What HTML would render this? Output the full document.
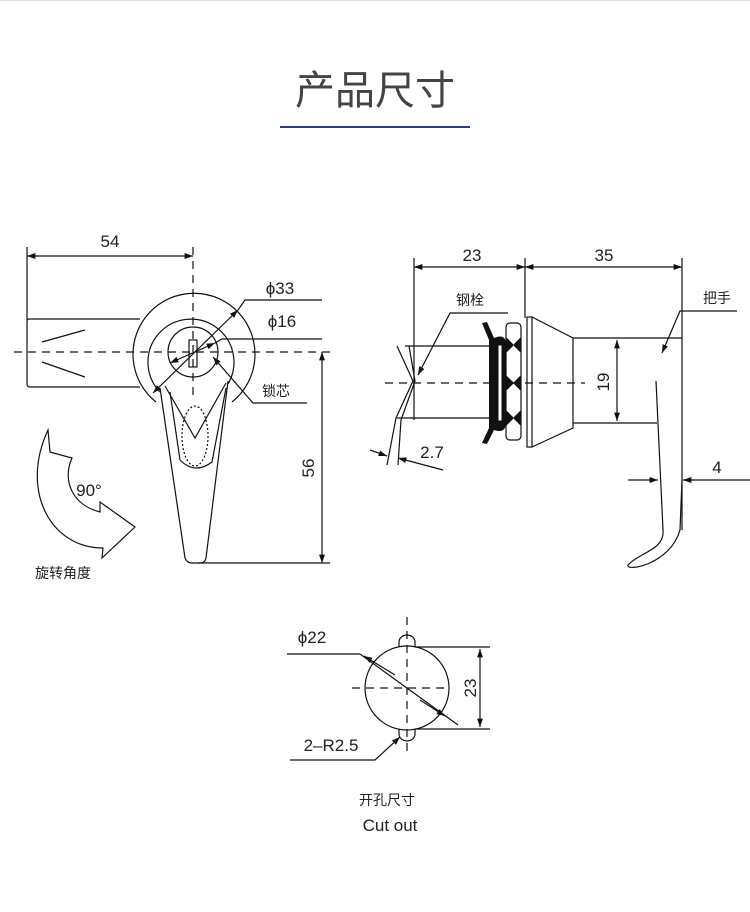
<!DOCTYPE html>
<html><head><meta charset="utf-8"><style>
html,body{margin:0;padding:0;background:#fff;}
svg{display:block;}
text{font-family:"Liberation Sans","Noto Sans CJK SC",sans-serif;fill:#222;}
</style></head><body>
<svg width="750" height="912" viewBox="0 0 750 912" xmlns="http://www.w3.org/2000/svg">
<defs>
<marker id="a" viewBox="0 0 10 10" refX="10" refY="5" markerWidth="7" markerHeight="7" orient="auto-start-reverse"><path d="M0,1.5 L10,5 L0,8.5 Z" fill="#111"/></marker>
</defs>
<line x1="0" y1="0.5" x2="750" y2="0.5" stroke="#ddd"/>
<text x="375" y="104" font-size="40" text-anchor="middle" style="fill:#444">产品尺寸</text>
<rect x="280" y="126" width="190" height="2" fill="#1e3f8f"/>

<g stroke="#111" stroke-width="1.2" fill="none">
<!-- LEFT -->
<line x1="27" y1="247" x2="27" y2="320"/>
<line x1="27" y1="256" x2="193" y2="256" marker-start="url(#a)" marker-end="url(#a)"/>
<line x1="14" y1="352" x2="330" y2="352" stroke-dasharray="8,6"/>
<line x1="193" y1="247" x2="193" y2="400" stroke-dasharray="8,6"/>
<path d="M140,319 L29,319 Q27,319 27,322 L27,384 Q27,387 30,387 L140,387"/>
<line x1="42" y1="342" x2="85" y2="330"/><line x1="42" y1="362" x2="85" y2="377"/>
<path d="M156,402 A61,61 0 1 1 232,402"/>
<path d="M160,392 A43,43 0 1 1 228,384"/>
<circle cx="193" cy="352" r="25"/>
<rect x="189" y="340" width="8" height="27"/>
<path d="M160,388 L185,558 Q187,563 192,563 L200,563 Q205,563 206,558 L228,381"/>
<path d="M165,386 L195,438 L226,383"/>
<path d="M170,392 L180,460 Q195,475 212,462 L226,388"/>
<ellipse cx="195" cy="436" rx="13" ry="30" stroke-dasharray="2,2"/>
<line x1="238" y1="310" x2="153" y2="393" marker-start="url(#a)" marker-end="url(#a)"/>
<polyline points="238,310 245,300 322,300"/>
<line x1="215" y1="343" x2="170" y2="363" marker-start="url(#a)" marker-end="url(#a)"/>
<polyline points="215,343 222,339 322,339"/>
<polyline points="307,403 253,403 213,357" marker-end="url(#a)"/>
<line x1="322" y1="352" x2="322" y2="563" marker-start="url(#a)" marker-end="url(#a)"/>
<line x1="198" y1="563" x2="330" y2="563"/>
<path d="M48,430 L50,452 L72,458 C62,480 72,505 100,512 L100,502 L135,527 L102,558 L103,548 C50,548 20,490 48,430 Z"/>

<!-- RIGHT -->
<line x1="414" y1="258" x2="414" y2="420"/>
<line x1="525" y1="258" x2="525" y2="318"/>
<line x1="682" y1="258" x2="682" y2="530"/>
<line x1="414" y1="267" x2="525" y2="267" marker-start="url(#a)" marker-end="url(#a)"/>
<line x1="525" y1="267" x2="682" y2="267" marker-start="url(#a)" marker-end="url(#a)"/>
<line x1="385" y1="383" x2="585" y2="383" stroke-dasharray="8,6"/>
<polyline points="397,346 413,381 396,418"/>
<polyline points="409,346 415,381 401,420"/>
<line x1="396" y1="418" x2="387" y2="465"/><line x1="401" y1="420" x2="398" y2="465"/>
<line x1="405" y1="346" x2="490" y2="346"/><line x1="397" y1="418" x2="490" y2="418"/>
<line x1="370" y1="450" x2="387" y2="456" marker-end="url(#a)"/>
<line x1="443" y1="470" x2="398" y2="458" marker-end="url(#a)"/>
<rect x="506" y="323" width="15" height="117" rx="4"/>
<rect x="527" y="317" width="5" height="130"/>
<path d="M532,317 L573,338 L573,428 L532,447"/>
<line x1="573" y1="338" x2="682" y2="338"/>
<line x1="573" y1="423" x2="657" y2="423"/>
<line x1="617" y1="340" x2="617" y2="421" marker-start="url(#a)" marker-end="url(#a)"/>
<path d="M656,381 L663,530 C665,550 640,552 628,565 C625,572 670,565 680,530 L682,480"/>
<line x1="628" y1="480" x2="658" y2="480" marker-end="url(#a)"/>
<line x1="750" y1="480" x2="683" y2="480" marker-end="url(#a)"/>
<polyline points="737,311 680,311 662,353" marker-end="url(#a)"/>
<polyline points="508,313 450,313 418,375" marker-end="url(#a)"/>

<!-- CUTOUT -->
<line x1="352" y1="688" x2="448" y2="688" stroke-dasharray="8,6"/>
<line x1="407" y1="617" x2="407" y2="755" stroke-dasharray="8,6"/>
<circle cx="407" cy="688" r="42"/>
<path d="M399,647 L399,642 A8,7 0 0 1 415,642 L415,647"/>
<path d="M399,729 L399,734 A8,7 0 0 0 415,734 L415,729"/>
<line x1="415" y1="647" x2="490" y2="647"/><line x1="415" y1="729" x2="490" y2="729"/>
<line x1="480" y1="649" x2="480" y2="727" marker-start="url(#a)" marker-end="url(#a)"/>
<polyline points="287,654 360,654"/>
<line x1="360" y1="654" x2="458" y2="725"/>
<line x1="395" y1="675" x2="364" y2="656" marker-end="url(#a)"/>
<line x1="420" y1="700" x2="445" y2="716" marker-end="url(#a)"/>
<polyline points="290,760 375,760 400,737" marker-end="url(#a)"/>
</g>
<!-- nut black parts -->
<g fill="#111">
<path d="M482,323 L487,322 L494,338 L500,340 L500,428 L494,430 L487,444 L482,443 L489,428 L489,340 Z"/>
<path d="M494,338 Q506,333 506,345 L506,422 Q506,434 494,430 L496,420 L498,346 Z"/>
<path d="M506,337 L514,345 L506,353 Z M521,337 L513,345 L521,353 Z M506,375 L514,383 L506,391 Z M521,375 L513,383 L521,391 Z M506,410 L514,418 L506,426 Z M521,410 L513,418 L521,426 Z"/>
</g>
<rect x="498" y="345" width="4" height="76" fill="#fff" stroke="#111" stroke-width="1"/>

<g font-size="17">
<text x="110" y="247" text-anchor="middle">54</text>
<text x="280" y="294" text-anchor="middle">ϕ33</text>
<text x="282" y="327" text-anchor="middle">ϕ16</text>
<text x="276" y="396" font-size="14" text-anchor="middle">锁芯</text>
<text transform="translate(314,468) rotate(-90)" text-anchor="middle">56</text>
<text x="89" y="496" text-anchor="middle">90°</text>
<text x="63" y="578" font-size="14" text-anchor="middle">旋转角度</text>
<text x="472" y="261" text-anchor="middle">23</text>
<text x="604" y="261" text-anchor="middle">35</text>
<text x="470" y="305" font-size="14" text-anchor="middle">钢栓</text>
<text x="717" y="303" font-size="14" text-anchor="middle">把手</text>
<text transform="translate(609,382) rotate(-90)" text-anchor="middle">19</text>
<text x="432" y="458" text-anchor="middle">2.7</text>
<text x="717" y="473" text-anchor="middle">4</text>
<text x="312" y="643" text-anchor="middle">ϕ22</text>
<text transform="translate(476,688) rotate(-90)" text-anchor="middle">23</text>
<text x="331" y="751" text-anchor="middle">2–R2.5</text>
<text x="387" y="805" font-size="14" text-anchor="middle">开孔尺寸</text>
<text x="390" y="831" text-anchor="middle">Cut out</text>
</g>
</svg>
</body></html>
